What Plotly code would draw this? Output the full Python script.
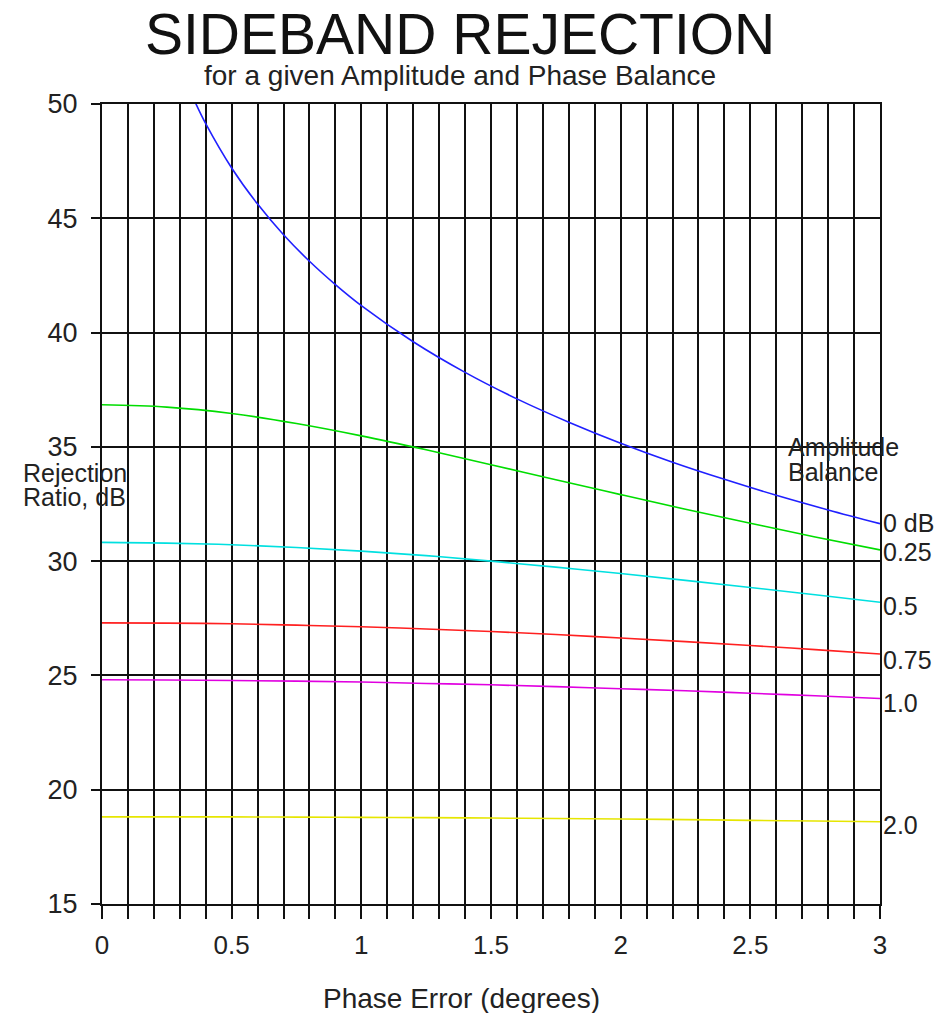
import plotly.graph_objects as go

# Phase error (degrees)
phase = [0, 0.25, 0.5, 0.75, 1.0, 1.25, 1.5, 1.75, 2.0, 2.25, 2.5, 2.75, 3.0]

# 0 dB amplitude balance curve (own x points, goes off the top near 0.36 deg)
phase_0db = [0.36, 0.4, 0.5, 0.6, 0.7, 0.8, 0.9, 1.0, 1.2, 1.4, 1.6, 1.8, 2.0, 2.2, 2.4, 2.6, 2.8, 3.0]
rej_0db = [50.06, 49.14, 47.20, 45.62, 44.28, 43.12, 42.10, 41.18, 39.60, 38.26, 37.10, 36.08,
           35.16, 34.33, 33.58, 32.88, 32.24, 31.64]

rej_025 = [36.84, 36.74, 36.46, 36.02, 35.48, 34.87, 34.22, 33.56, 32.91, 32.27, 31.66, 31.06, 30.49]
rej_05 = [30.82, 30.79, 30.72, 30.60, 30.44, 30.24, 30.00, 29.74, 29.46, 29.16, 28.85, 28.53, 28.20]
rej_075 = [27.30, 27.29, 27.26, 27.20, 27.13, 27.03, 26.92, 26.79, 26.64, 26.48, 26.31, 26.13, 25.94]
rej_10 = [24.81, 24.80, 24.78, 24.75, 24.71, 24.65, 24.59, 24.51, 24.42, 24.33, 24.22, 24.11, 23.99]
rej_20 = [18.81, 18.81, 18.81, 18.80, 18.79, 18.78, 18.76, 18.74, 18.72, 18.69, 18.66, 18.63, 18.60]

curve_labels = ["0 dB", "0.25", "0.5", "0.75", "1.0", "2.0"]
label_y = [31.67, 30.4, 28.04, 25.68, 23.8, 18.46]
colors = ["#2020ff", "#00dd00", "#00e0e0", "#ff2020", "#e000e0", "#e6e600"]

x_ticks = [round(i * 0.1, 1) for i in range(31)]
x_ticktext = [("0" if v == 0 else ("%g" % v)) if abs(v * 2 - round(v * 2)) < 1e-9 else "" for v in x_ticks]
y_ticks = [15, 20, 25, 30, 35, 40, 45, 50]

series = [
    (phase_0db, rej_0db),
    (phase, rej_025),
    (phase, rej_05),
    (phase, rej_075),
    (phase, rej_10),
    (phase, rej_20),
]

fig = go.Figure()
for (xs, ys), c, name in zip(series, colors, curve_labels):
    fig.add_trace(go.Scatter(x=xs, y=ys, mode="lines", name=name,
                             line=dict(color=c, width=1.6, shape="spline"),
                             showlegend=False, hoverinfo="skip"))

FONT = "Liberation Sans, Arial, sans-serif"
TXT = "#222"

for txt, yv in zip(curve_labels, label_y):
    fig.add_annotation(x=3, y=yv, xref="x", yref="y", text=txt, showarrow=False,
                       xanchor="left", yanchor="middle", xshift=2, borderpad=0,
                       font=dict(family=FONT, size=25, color=TXT))

for txt, yv in [("Amplitude", 34.99), ("Balance", 33.9)]:
    fig.add_annotation(x=3, y=yv, xref="x", yref="y", text=txt,
                       showarrow=False, xanchor="left", yanchor="middle", borderpad=0,
                       xshift=-93, font=dict(family=FONT, size=25, color=TXT))

for txt, yv in [("Rejection", 33.86), ("Ratio, dB", 32.81)]:
    fig.add_annotation(x=0, y=yv, xref="x", yref="y", text=txt,
                       showarrow=False, xanchor="left", yanchor="middle", borderpad=0,
                       xshift=-80, font=dict(family=FONT, size=25, color=TXT))

fig.add_annotation(x=0.46, y=1.0, xref="paper", yref="paper", yshift=70,
                   text="SIDEBAND REJECTION", showarrow=False, borderpad=0,
                   xanchor="center", yanchor="middle",
                   font=dict(family=FONT, size=57, color="#111"))
fig.add_annotation(x=0.46, y=1.0, xref="paper", yref="paper", yshift=29,
                   text="for a given Amplitude and Phase Balance", showarrow=False,
                   xanchor="center", yanchor="middle", borderpad=0,
                   font=dict(family=FONT, size=28, color=TXT))
fig.add_annotation(x=0.4627, y=0.0, xref="paper", yref="paper", yshift=-94,
                   text="Phase Error (degrees)", showarrow=False,
                   xanchor="center", yanchor="middle", borderpad=0,
                   font=dict(family=FONT, size=28, color=TXT))

fig.update_layout(
    width=937, height=1005,
    margin=dict(l=94, r=65, t=96, b=109),
    paper_bgcolor="white", plot_bgcolor="white",
    font=dict(family=FONT, color=TXT),
    xaxis=dict(range=[0, 3], tickmode="array", tickvals=x_ticks, ticktext=x_ticktext,
               showgrid=True, gridcolor="#111", gridwidth=2,
               ticks="outside", ticklen=13, tickwidth=2, tickcolor="#111",
               showline=True, linecolor="#111", linewidth=2, mirror=True,
               zeroline=False, tickfont=dict(size=26), ticklabelstandoff=4),
    yaxis=dict(range=[15, 50], tickmode="array", tickvals=y_ticks,
               showgrid=True, gridcolor="#111", gridwidth=2,
               ticks="outside", ticklen=9, tickwidth=2, tickcolor="#111",
               showline=True, linecolor="#111", linewidth=2, mirror=True,
               zeroline=False, tickfont=dict(size=27), ticklabelstandoff=8),
)

fig.write_html("out.html")
